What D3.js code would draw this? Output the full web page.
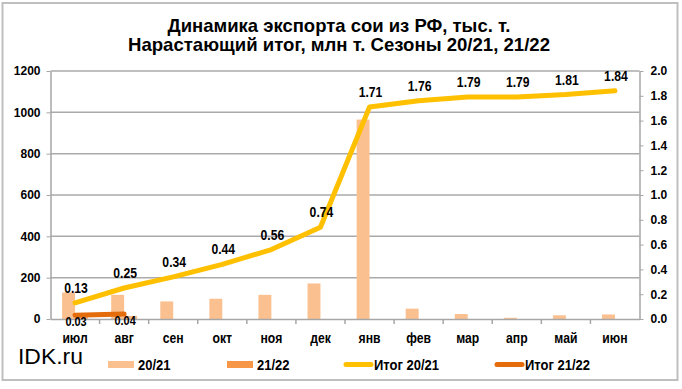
<!DOCTYPE html>
<html>
<head>
<meta charset="utf-8">
<script src="https://cdn.jsdelivr.net/npm/d3@7"></script>
<style>
  body { margin: 0; background: #fff; }
  svg { display: block; font-family: Arial, "Liberation Sans", sans-serif; }
  .axis path, .axis line { stroke: #a6a6a6; }
  .axis text { fill: #000; font-weight: bold; font-size: 12px; }
</style>
</head>
<body>
<svg id="chart" width="682" height="389"></svg>
<script>
const months = ['июл', 'авг', 'сен', 'окт', 'ноя', 'дек', 'янв', 'фев', 'мар', 'апр', 'май', 'июн'];
const export2021 = [128, 117, 85, 98, 117, 172, 965, 50, 24, 6, 18, 22];
const export2122 = [28, 15];
const total2021 = [0.13, 0.25, 0.34, 0.44, 0.56, 0.74, 1.71, 1.76, 1.79, 1.79, 1.81, 1.84];
const total2122 = [0.03, 0.04];
const leftTicks = [0, 200, 400, 600, 800, 1000, 1200];
const rightTicks = [0, 0.2, 0.4, 0.6, 0.8, 1.0, 1.2, 1.4, 1.6, 1.8, 2.0];

const svg = d3.select('#chart');
const plotLeft = 50.5, plotRight = 639.5, plotTop = 71, plotBottom = 319;
const condense = 0.84;

// outer frame
svg.append('rect')
  .attr('x', 2.5).attr('y', 3).attr('width', 675).attr('height', 377)
  .attr('fill', '#fff').attr('stroke', '#bfbfbf').attr('stroke-width', 2);

// title
const titleLines = [
  { text: 'Динамика экспорта сои из РФ, тыс. т.', y: 32, len: 343 },
  { text: 'Нарастающий итог, млн  т. Сезоны 20/21, 21/22', y: 51, len: 422 }
];
titleLines.forEach(t => {
  svg.append('text')
    .attr('x', 339).attr('y', t.y)
    .attr('text-anchor', 'middle')
    .attr('font-size', 19).attr('font-weight', 'bold')
    .attr('textLength', t.len).attr('lengthAdjust', 'spacingAndGlyphs')
    .text(t.text);
});

const x = d3.scaleBand().domain(months).range([plotLeft, plotRight]);
const xSeries = d3.scaleBand().domain(['20/21', '21/22'])
  .range([0, x.bandwidth()]).paddingOuter(0.9);
const yLeft = d3.scaleLinear().domain([0, 1200]).range([plotBottom, plotTop]);
const yRight = d3.scaleLinear().domain([0, 2]).range([plotBottom, plotTop]);

// gridlines
svg.append('g')
  .selectAll('line')
  .data(leftTicks.slice(1))
  .join('line')
  .attr('x1', plotLeft).attr('x2', plotRight)
  .attr('y1', d => yLeft(d)).attr('y2', d => yLeft(d))
  .attr('stroke', '#aaaaaa').attr('stroke-width', 1.5);

// bars
const bars = svg.append('g');
bars.selectAll('rect.s1')
  .data(export2021)
  .join('rect')
  .attr('class', 's1')
  .attr('x', (d, i) => x(months[i]) + xSeries('20/21'))
  .attr('width', xSeries.bandwidth())
  .attr('y', d => yLeft(d))
  .attr('height', d => plotBottom - yLeft(d))
  .attr('fill', '#fac090');
bars.selectAll('rect.s2')
  .data(export2122)
  .join('rect')
  .attr('class', 's2')
  .attr('x', (d, i) => x(months[i]) + xSeries('21/22'))
  .attr('width', xSeries.bandwidth())
  .attr('y', d => yLeft(d))
  .attr('height', d => plotBottom - yLeft(d))
  .attr('fill', '#f9b888');

// axes
const xAxis = d3.axisBottom(x).tickSize(0).tickFormat('');
const gx = svg.append('g').attr('class', 'axis').attr('transform', `translate(0,${plotBottom})`).call(xAxis);
gx.select('.domain').attr('stroke-width', 1.5);
// band boundary ticks
gx.selectAll('line.sep')
  .data(months.slice(1))
  .join('line')
  .attr('class', 'sep')
  .attr('x1', d => x(d)).attr('x2', d => x(d))
  .attr('y1', 0).attr('y2', 5)
  .attr('stroke', '#a6a6a6').attr('stroke-width', 1.5);

months.forEach(m => {
  svg.append('text')
    .attr('transform', `translate(${x(m) + x.bandwidth() / 2},343) scale(${condense},1)`)
    .attr('text-anchor', 'middle')
    .attr('font-size', 14.5).attr('font-weight', 'bold')
    .text(m);
});

const yAxisL = d3.axisLeft(yLeft).tickValues(leftTicks).tickSize(4).tickPadding(6).tickSizeOuter(0)
  .tickFormat(d3.format('d'));
const gl = svg.append('g').attr('class', 'axis').attr('transform', `translate(${plotLeft},0)`).call(yAxisL);
gl.select('.domain').attr('stroke-width', 1.5);

const yAxisR = d3.axisRight(yRight).tickValues(rightTicks).tickSize(4).tickPadding(7).tickSizeOuter(0)
  .tickFormat(d3.format('.1f'));
const gr = svg.append('g').attr('class', 'axis').attr('transform', `translate(${plotRight},0)`).call(yAxisR);
gr.select('.domain').attr('stroke-width', 1.5);

// lines
const line = d3.line()
  .x((d, i) => x(months[i]) + x.bandwidth() / 2)
  .y(d => yRight(d));

svg.append('path')
  .datum(total2021)
  .attr('d', line)
  .attr('fill', 'none').attr('stroke', '#ffc000').attr('stroke-width', 5)
  .attr('stroke-linejoin', 'round').attr('stroke-linecap', 'round');
svg.append('path')
  .datum(total2122)
  .attr('d', line)
  .attr('fill', 'none').attr('stroke', '#e46c0a').attr('stroke-width', 5)
  .attr('stroke-linecap', 'round');

// data labels
total2021.forEach((d, i) => {
  svg.append('text')
    .attr('transform', `translate(${x(months[i]) + x.bandwidth() / 2 + 1},${yRight(d) - 10}) scale(${condense},1)`)
    .attr('text-anchor', 'middle')
    .attr('font-size', 14.5).attr('font-weight', 'bold')
    .text(d.toFixed(2));
});
total2122.forEach((d, i) => {
  svg.append('text')
    .attr('transform', `translate(${x(months[i]) + x.bandwidth() / 2 + 1},${yRight(d) + 11}) scale(${condense},1)`)
    .attr('text-anchor', 'middle')
    .attr('font-size', 13).attr('font-weight', 'bold')
    .text(d.toFixed(2));
});

// watermark
svg.append('text')
  .attr('x', 18).attr('y', 364)
  .attr('font-size', 22)
  .attr('textLength', 65).attr('lengthAdjust', 'spacingAndGlyphs')
  .text('IDK.ru');

// legend
const legendItems = [
  { name: '20/21', type: 'bar', color: '#fac090', x: 108 },
  { name: '21/22', type: 'bar', color: '#f79646', x: 227 },
  { name: 'Итог  20/21', type: 'line', color: '#ffc000', x: 344 },
  { name: 'Итог  21/22', type: 'line', color: '#e46c0a', x: 495 }
];
const legend = svg.append('g');
legendItems.forEach(item => {
  if (item.type === 'bar') {
    legend.append('rect')
      .attr('x', item.x).attr('y', 361).attr('width', 26).attr('height', 7)
      .attr('fill', item.color);
  } else {
    legend.append('line')
      .attr('x1', item.x + 2).attr('x2', item.x + 27)
      .attr('y1', 364.5).attr('y2', 364.5)
      .attr('stroke', item.color).attr('stroke-width', 5).attr('stroke-linecap', 'round');
  }
  legend.append('text')
    .attr('transform', `translate(${item.x + 30},369.5) scale(${condense},1)`)
    .attr('font-size', 15.5).attr('font-weight', 'bold')
    .text(item.name);
});
</script>
</body>
</html>
